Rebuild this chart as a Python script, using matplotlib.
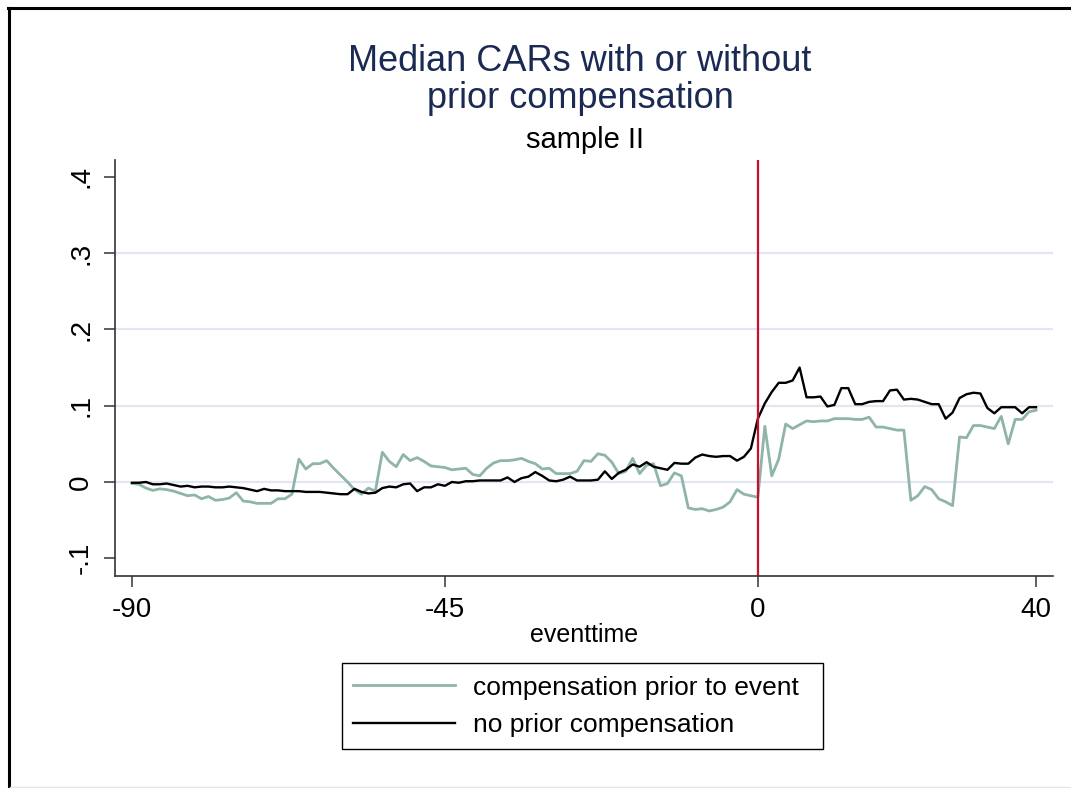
import matplotlib
matplotlib.use("Agg")
import matplotlib.pyplot as plt
from matplotlib.lines import Line2D
from matplotlib.patches import Rectangle
import numpy as np

plt.rcParams['font.family'] = ['Liberation Sans', 'DejaVu Sans']

eventtime = np.arange(-90, 41)

# median CAR, firms with compensation prior to the event
comp_prior = [
    -0.002, -0.003, -0.008, -0.011, -0.009, -0.010, -0.012, -0.015, -0.018, -0.017,
    -0.022, -0.019, -0.024, -0.023, -0.021, -0.014, -0.025, -0.026, -0.028, -0.028,
    -0.028, -0.022, -0.022, -0.016, 0.030, 0.017, 0.024, 0.024, 0.028, 0.018,
    0.009, 0.000, -0.010, -0.016, -0.008, -0.012, 0.039, 0.027, 0.020, 0.036,
    0.028, 0.032, 0.027, 0.021, 0.020, 0.019, 0.016, 0.017, 0.018, 0.010,
    0.008, 0.018, 0.025, 0.028, 0.028, 0.029, 0.031, 0.027, 0.024, 0.017,
    0.018, 0.011, 0.011, 0.011, 0.014, 0.028, 0.027, 0.037, 0.035, 0.026,
    0.011, 0.014, 0.031, 0.011, 0.022, 0.024, -0.005, -0.002, 0.012, 0.008,
    -0.034, -0.036, -0.035, -0.038, -0.036, -0.033, -0.026, -0.010, -0.016, -0.018,
    -0.020, 0.073, 0.008, 0.030, 0.076, 0.070, 0.075, 0.080, 0.079, 0.080,
    0.080, 0.083, 0.083, 0.083, 0.082, 0.082, 0.085, 0.072, 0.072, 0.070,
    0.068, 0.068, -0.024, -0.018, -0.006, -0.010, -0.022, -0.026, -0.031, 0.059,
    0.058, 0.074, 0.074, 0.072, 0.070, 0.086, 0.050, 0.082, 0.082, 0.092,
    0.094,
]

# median CAR, firms without prior compensation
no_prior = [
    -0.001, -0.001, 0.000, -0.003, -0.003, -0.002, -0.004, -0.006, -0.005, -0.007,
    -0.006, -0.006, -0.007, -0.007, -0.006, -0.007, -0.008, -0.010, -0.012, -0.009,
    -0.011, -0.011, -0.012, -0.012, -0.012, -0.013, -0.013, -0.013, -0.014, -0.015,
    -0.016, -0.016, -0.009, -0.013, -0.015, -0.014, -0.008, -0.006, -0.007, -0.003,
    -0.002, -0.012, -0.007, -0.007, -0.003, -0.005, 0.000, -0.001, 0.001, 0.001,
    0.002, 0.002, 0.002, 0.002, 0.006, 0.000, 0.005, 0.007, 0.013, 0.008,
    0.002, 0.001, 0.003, 0.007, 0.002, 0.002, 0.002, 0.003, 0.014, 0.004,
    0.012, 0.016, 0.023, 0.020, 0.026, 0.020, 0.018, 0.016, 0.025, 0.024,
    0.024, 0.032, 0.036, 0.034, 0.033, 0.034, 0.034, 0.028, 0.033, 0.044,
    0.083, 0.103, 0.118, 0.130, 0.130, 0.133, 0.150, 0.111, 0.111, 0.112,
    0.099, 0.101, 0.123, 0.123, 0.102, 0.102, 0.105, 0.106, 0.106, 0.120,
    0.121, 0.108, 0.109, 0.108, 0.105, 0.102, 0.102, 0.083, 0.091, 0.110,
    0.115, 0.117, 0.116, 0.097, 0.090, 0.098, 0.098, 0.098, 0.090, 0.098,
    0.098,
]

x_ticks = [-90, -45, 0, 40]
y_ticks = [-0.1, 0, 0.1, 0.2, 0.3, 0.4]
y_labels = ['-.1', '0', '.1', '.2', '.3', '.4']
grid_levels = [0, 0.1, 0.2, 0.3]

green = '#8fb4a8'
navy = '#1a2a52'
red = '#c8102e'

W, H = 1071, 788
fig = plt.figure(figsize=(W / 100, H / 100), dpi=100)
fig.patch.set_facecolor('white')

# outer frame (left/top black, bottom faint)
fig.add_artist(Line2D([9 / W, 9 / W], [0, 1 - 8 / H], color='black', lw=2.2))
fig.add_artist(Line2D([8 / W, 1], [1 - 8 / H, 1 - 8 / H], color='black', lw=2.2))
fig.add_artist(Line2D([10 / W, 1], [1.5 / H, 1.5 / H], color='#e4e4ec', lw=1))

ax = fig.add_axes([115 / W, 1 - 576 / H, (1053 - 115) / W, (576 - 160) / H])
ax.set_xlim(-92.44, 42.44)
ax.set_ylim(-0.1232, 0.422)

for g in grid_levels:
    ax.axhline(g, color='#e3e5f0', lw=1.6, zorder=0)

ax.plot(eventtime, comp_prior, color=green, lw=2.0, label='compensation prior to event')
ax.plot(eventtime, no_prior, color='black', lw=1.7, label='no prior compensation')
ax.axvline(0, color=red, lw=1.6)

for s in ['top', 'right']:
    ax.spines[s].set_visible(False)
for s in ['left', 'bottom']:
    ax.spines[s].set_color('#333333')
    ax.spines[s].set_linewidth(1.2)

ax.set_xticks(x_ticks)
ax.set_xticklabels([str(t) for t in x_ticks])
ax.set_yticks(y_ticks)
ax.set_yticklabels(y_labels, rotation=90, va='center')
ax.tick_params(axis='both', labelsize=20, length=8, width=1.1, color='#333333', pad=7)

ax.set_xlabel('eventtime', fontsize=18, labelpad=0)

fig.text(580 / W, 1 - 71 / H, 'Median CARs with or without', ha='center', va='baseline',
         fontsize=26, color=navy)
fig.text(580 / W, 1 - 107.5 / H, 'prior compensation', ha='center', va='baseline',
         fontsize=26, color=navy)
fig.text(584.5 / W, 1 - 148 / H, 'sample II', ha='center', va='baseline',
         fontsize=21, color='black')

# legend box drawn by hand, entries without frame
fig.add_artist(Rectangle((342 / W, 1 - 749 / H), (823 - 342) / W, (749 - 663) / H,
                         transform=fig.transFigure, fill=False, edgecolor='black', lw=1.0))
leg = fig.legend(loc='upper left', bbox_to_anchor=(342 / W, 1 - 665 / H), fontsize=19,
                 frameon=False, handlelength=3.9, handletextpad=0.65,
                 labelspacing=0.5, borderpad=0.4, borderaxespad=0)

fig.savefig('out.png', dpi=100)
